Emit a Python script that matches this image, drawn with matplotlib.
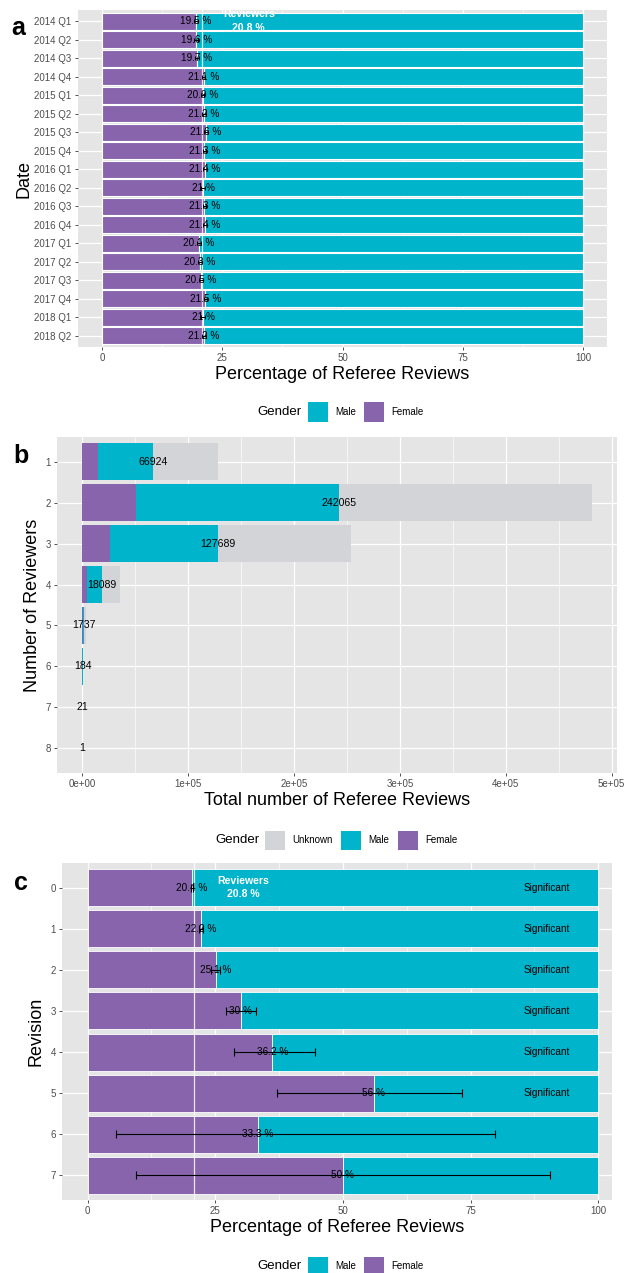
import numpy as np
import matplotlib
matplotlib.use("Agg")
import matplotlib.pyplot as plt
from matplotlib.patches import Rectangle
from matplotlib.ticker import MultipleLocator, FuncFormatter

plt.rcParams['font.family'] = ['Liberation Sans', 'DejaVu Sans']

# Colours
TEAL = '#00B4CB'
PURPLE = '#8764AC'
UNKNOWN = '#D3D4D7'
PANEL = '#E5E5E5'
TICKCOL = '#4D4D4D'

REVIEWER_SHARE = 20.8

# Panel a: female share of referee reviews per quarter
quarters = ['2014 Q1', '2014 Q2', '2014 Q3', '2014 Q4',
            '2015 Q1', '2015 Q2', '2015 Q3', '2015 Q4',
            '2016 Q1', '2016 Q2', '2016 Q3', '2016 Q4',
            '2017 Q1', '2017 Q2', '2017 Q3', '2017 Q4',
            '2018 Q1', '2018 Q2']
female_q = [19.5, 19.6, 19.7, 21.1, 20.9, 21.2, 21.6, 21.3, 21.4,
            21.0, 21.3, 21.4, 20.1, 20.3, 20.5, 21.5, 21.0, 21.2]
lo_q = [19.1, 19.2, 19.3, 20.7, 20.5, 20.8, 21.2, 20.9, 21.0,
        20.6, 20.9, 21.0, 19.7, 19.9, 20.1, 21.1, 20.6, 20.8]
hi_q = [19.9, 20.0, 20.1, 21.5, 21.3, 21.6, 22.0, 21.7, 21.8,
        21.4, 21.7, 21.8, 20.5, 20.7, 20.9, 21.9, 21.4, 21.6]

# Panel b: referee reviews by number of reviewers
n_reviewers = ['1', '2', '3', '4', '5', '6', '7', '8']
female_b = [14500, 50500, 26000, 4200, 100, 12, 2, 0]
male_b = [52400, 191500, 101700, 13900, 1637, 172, 19, 1]
unknown_b = [61000, 239000, 125800, 17500, 1800, 190, 21, 1]
label_b = [66924, 242065, 127689, 18089, 1737, 184, 21, 1]

# Panel c: female share by revision
revisions = ['0', '1', '2', '3', '4', '5', '6', '7']
female_c = [20.4, 22.2, 25.1, 30.0, 36.2, 56.0, 33.3, 50.0]
lo_c = [20.2, 21.9, 24.2, 27.2, 28.7, 37.1, 5.6, 9.5]
hi_c = [20.6, 22.6, 26.0, 32.9, 44.6, 73.3, 79.8, 90.6]
significant = [True, True, True, True, True, True, False, False]

W, H = 624, 1273
fig = plt.figure(figsize=(W / 100, H / 100), dpi=100)


def px_axes(l, t, r, b):
    return fig.add_axes([l / W, 1 - b / H, (r - l) / W, (b - t) / H])


def style(ax, minor):
    ax.set_facecolor(PANEL)
    for s in ax.spines.values():
        s.set_visible(False)
    ax.xaxis.set_minor_locator(MultipleLocator(minor))
    ax.grid(which='major', color='white', lw=0.9)
    ax.grid(which='minor', axis='x', color='white', lw=0.45)
    ax.set_axisbelow(True)
    ax.tick_params(which='major', length=2.5, width=0.6, color='#333333',
                   labelcolor=TICKCOL, labelsize=7, pad=2)
    ax.tick_params(which='minor', length=0)


def legend(y, title_right, items):
    # items: (colour, label, key left px)
    ky = 1 - (y + 9.5) / H
    fig.text(title_right / W, 1 - y / H, 'Gender', ha='right', va='center',
             fontsize=9.5)
    for col, lab, kx in items:
        fig.patches.append(Rectangle((kx / W, ky), 20 / W, 19 / H,
                                     transform=fig.transFigure,
                                     facecolor=col, edgecolor='none'))
        fig.text((kx + 27) / W, 1 - y / H, lab, ha='left', va='center',
                 fontsize=7)


def panel_letter(x, baseline, s):
    fig.text(x / W, 1 - baseline / H, s, ha='left', va='baseline',
             fontsize=18, fontweight='bold')


# ---- panel a ----
ax = px_axes(78, 10, 607, 347)
style(ax, 12.5)
ya = np.arange(len(quarters))
fq = np.array(female_q)
ax.barh(ya, fq, height=0.92, color=PURPLE, edgecolor='white', lw=0.8)
ax.barh(ya, 100 - fq, left=fq, height=0.92, color=TEAL, edgecolor='white', lw=0.8)
ax.axvline(REVIEWER_SHARE, color='white', lw=0.9, alpha=0.8)
for y, v in zip(ya, female_q):
    ax.text(v, y, f'{v:g} %', ha='center', va='center', fontsize=7.2)
ax.errorbar(fq, ya, xerr=[fq - np.array(lo_q), np.array(hi_q) - fq], fmt='none',
            ecolor='black', elinewidth=0.7, capsize=1.6, capthick=0.7)
ax.text(30.5, 0, f'Reviewers\n{REVIEWER_SHARE} %', ha='center', va='center',
        color='white', fontweight='bold', fontsize=7.6, linespacing=1.45,
        clip_on=True)
ax.set_xlim(-5, 105)
ax.set_ylim(len(quarters) - 0.4, -0.6)
ax.set_yticks(ya)
ax.set_yticklabels(quarters)
ax.set_xticks([0, 25, 50, 75, 100])
ax.set_xlabel('Percentage of Referee Reviews', fontsize=13, labelpad=2)
ax.set_ylabel('Date', fontsize=13, labelpad=1)
legend(412, 302, [(TEAL, 'Male', 308), (PURPLE, 'Female', 364)])
panel_letter(11, 35, 'a')

# ---- panel b ----
ax = px_axes(57, 437, 617, 773)
yb = np.arange(len(n_reviewers))
f_b = np.array(female_b)
m_b = np.array(male_b)
u_b = np.array(unknown_b)
total = f_b + m_b + u_b
style(ax, 50000)
ax.barh(yb, f_b, height=0.9, color=PURPLE)
ax.barh(yb, m_b, left=f_b, height=0.9, color=TEAL)
ax.barh(yb, u_b, left=f_b + m_b, height=0.9, color=UNKNOWN)
for y, v in zip(yb, label_b):
    ax.text(v, y, str(v), ha='center', va='center', fontsize=7.6)
ax.set_xlim(-0.05 * total.max(), 1.05 * total.max())
ax.set_ylim(len(n_reviewers) - 0.4, -0.6)
ax.set_yticks(yb)
ax.set_yticklabels(n_reviewers)
ax.set_xticks([0, 100000, 200000, 300000, 400000, 500000])
ax.xaxis.set_major_formatter(FuncFormatter(lambda v, p: f'{v:.0e}'))
ax.set_xlabel('Total number of Referee Reviews', fontsize=13, labelpad=2)
ax.set_ylabel('Number of Reviewers', fontsize=13, labelpad=3)
legend(840, 259, [(UNKNOWN, 'Unknown', 265), (TEAL, 'Male', 341),
                  (PURPLE, 'Female', 398)])
panel_letter(13, 463, 'b')

# ---- panel c ----
ax = px_axes(62, 863, 612, 1200)
style(ax, 12.5)
yc = np.arange(len(revisions))
fc = np.array(female_c)
ax.barh(yc, fc, height=0.9, color=PURPLE, edgecolor='white', lw=0.6)
ax.barh(yc, 100 - fc, left=fc, height=0.9, color=TEAL, edgecolor='white', lw=0.6)
ax.axvline(REVIEWER_SHARE, color='white', lw=0.9, alpha=0.85)
for y, v in zip(yc, female_c):
    ax.text(v, y, f'{v:g} %', ha='center', va='center', fontsize=7.2)
ax.errorbar(fc, yc, xerr=[fc - np.array(lo_c), np.array(hi_c) - fc], fmt='none',
            ecolor='black', elinewidth=0.8, capsize=3.2, capthick=0.8)
for y, sig in zip(yc, significant):
    if sig:
        ax.text(90, y, 'Significant', ha='center', va='center', fontsize=7.2)
ax.text(30.5, 0, f'Reviewers\n{REVIEWER_SHARE} %', ha='center', va='center',
        color='white', fontweight='bold', fontsize=7.6, linespacing=1.45)
ax.set_xlim(-5, 102.7)
ax.set_ylim(len(revisions) - 0.4, -0.6)
ax.set_yticks(yc)
ax.set_yticklabels(revisions)
ax.set_xticks([0, 25, 50, 75, 100])
ax.set_xlabel('Percentage of Referee Reviews', fontsize=13, labelpad=2)
ax.set_ylabel('Revision', fontsize=13, labelpad=4)
legend(1266, 302, [(TEAL, 'Male', 308), (PURPLE, 'Female', 364)])
panel_letter(14, 890, 'c')

fig.savefig('out.png', dpi=100)
